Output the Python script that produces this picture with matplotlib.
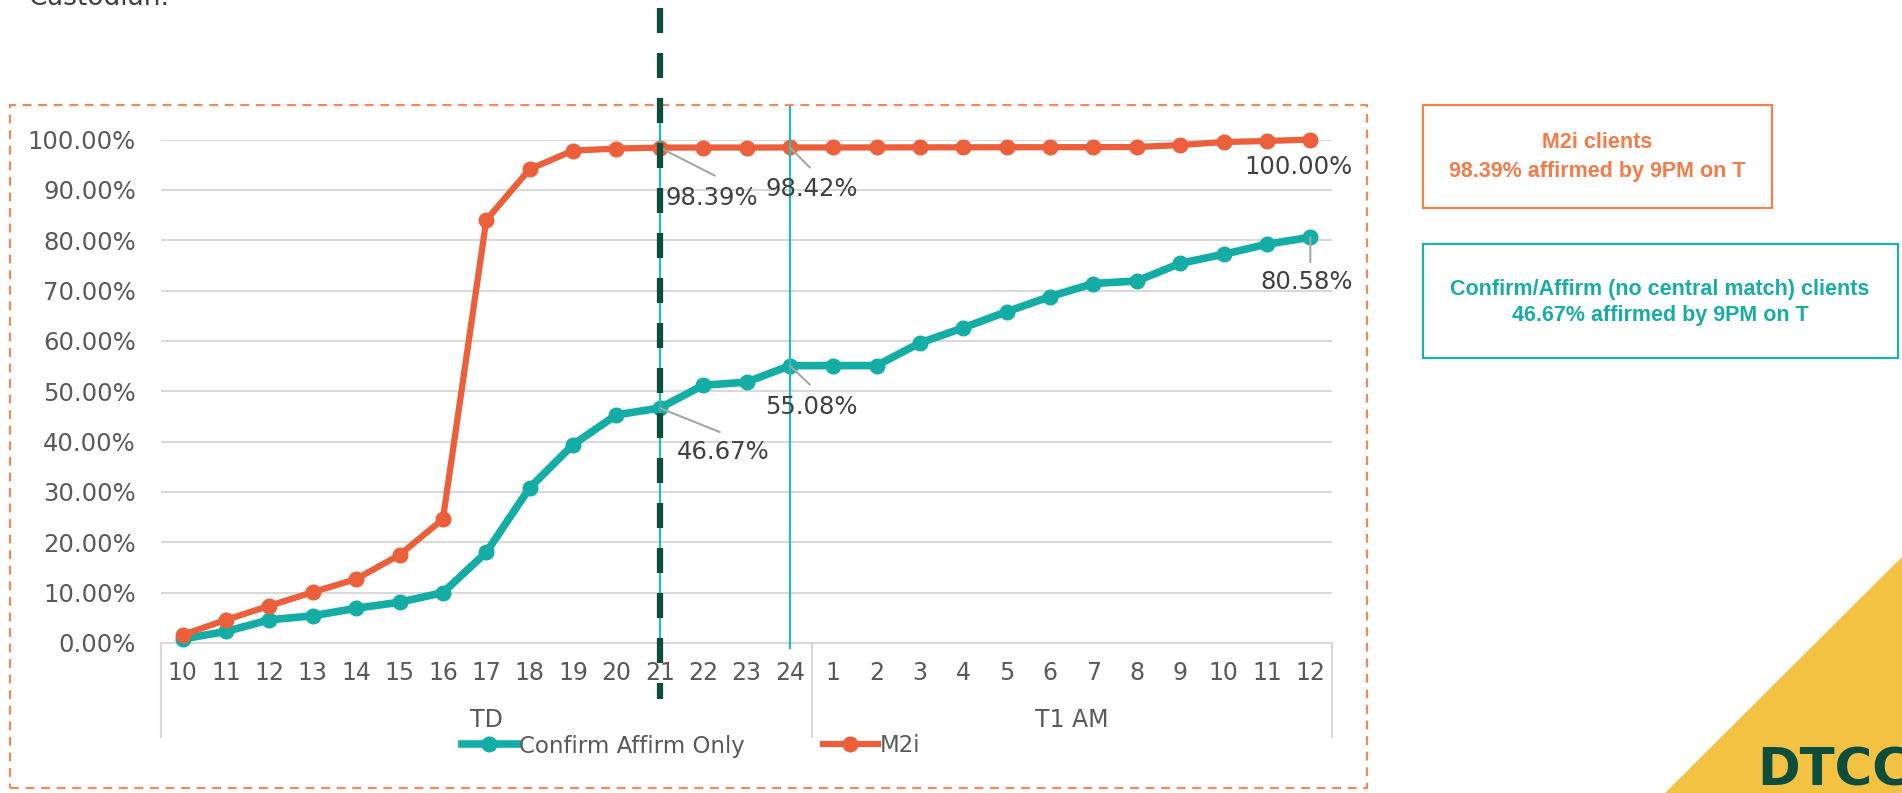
import matplotlib
matplotlib.use("Agg")
import matplotlib.pyplot as plt
import matplotlib.lines as mlines
import matplotlib.patches as mpatches
from matplotlib.ticker import PercentFormatter, FixedLocator

# hourly cumulative affirmation rate (%), trade date 10:00 through T+1 noon
hours = ["10", "11", "12", "13", "14", "15", "16", "17", "18", "19", "20",
         "21", "22", "23", "24", "1", "2", "3", "4", "5", "6", "7", "8",
         "9", "10", "11", "12"]
days = ["TD", "T1 AM"]
day_sizes = [15, 12]

confirm_only = [0.8, 2.3, 4.6, 5.4, 6.9, 8.1, 10.0, 18.0, 30.8, 39.4, 45.3,
                46.67, 51.2, 51.8, 55.08, 55.1, 55.1, 59.6, 62.6, 65.8, 68.8,
                71.4, 71.9, 75.4, 77.2, 79.2, 80.58]
m2i = [1.6, 4.6, 7.4, 10.1, 12.7, 17.5, 24.6, 84.0, 94.1, 97.8, 98.2,
       98.39, 98.4, 98.4, 98.42, 98.42, 98.43, 98.44, 98.45, 98.46, 98.47,
       98.48, 98.5, 98.9, 99.5, 99.7, 100.0]

cutoff_hours = [11, 14]   # positions of 21:00 and 24:00

W, H = 1902, 793
ORANGE = "#EC5F3B"
TEAL = "#14ADA5"
GRID = "#D9D9D9"
TXT = "#595959"
DARK = "#0C4E3B"

plt.rcParams["font.family"] = ["DejaVu Sans"]


def fx(px):
    return px / W


def fy(py):
    return 1 - py / H


fig = plt.figure(figsize=(W / 100, H / 100), dpi=100)
ax = fig.add_axes([fx(161), fy(643), (1332 - 161) / W, (643 - 139.5) / H])

x = list(range(len(hours)))
conf = [v / 100 for v in confirm_only]
m2 = [v / 100 for v in m2i]

ax.plot(x, conf, color=TEAL, lw=5.5, marker="o", ms=10.5, clip_on=False,
        zorder=3, label="Confirm Affirm Only")
ax.plot(x, m2, color=ORANGE, lw=4.5, marker="o", ms=10.5, clip_on=False,
        zorder=3.5, label="M2i")

ax.set_xlim(-0.5, len(hours) - 0.5)
ax.set_ylim(0, 1)
ax.yaxis.set_major_locator(FixedLocator([i / 10 for i in range(11)]))
ax.yaxis.set_major_formatter(PercentFormatter(xmax=1, decimals=2))
ax.set_xticks(x)
ax.set_xticklabels(hours)
ax.tick_params(axis="both", length=0, labelcolor=TXT)
ax.tick_params(axis="y", pad=18, labelsize=17.5)
ax.tick_params(axis="x", pad=13, labelsize=17)
ax.grid(axis="y", color=GRID, lw=1.5)
ax.set_axisbelow(True)
for side in ["left", "right", "top"]:
    ax.spines[side].set_visible(False)
ax.spines["bottom"].set_color(GRID)
ax.spines["bottom"].set_linewidth(1.5)

# thin cyan markers at 21:00 and 24:00
for c in cutoff_hours:
    ax.plot([c, c], [-0.01, 1.068], color="#22BDB4", lw=1.6,
            clip_on=False, zorder=4)

# day group labels and separators under the hour ticks
bounds = [-0.5]
for n in day_sizes:
    bounds.append(bounds[-1] + n)
for b in bounds:
    ax.plot([b, b], [0, -0.187], color=GRID, lw=1.5, clip_on=False)
for day, lo, hi in zip(days, bounds[:-1], bounds[1:]):
    ax.text((lo + hi) / 2, -0.153, day, ha="center", va="center",
            fontsize=17, color=TXT, transform=ax.get_xaxis_transform())

# data labels with grey leader lines: (series, index, text offset, leader end)
callouts = [
    (m2i, 11, (52, -50), (55, -28)),
    (m2i, 14, (22, -42), (20, -20)),
    (m2i, 26, (-12, -27), None),
    (confirm_only, 26, (-4, -45), (0, -25)),
    (confirm_only, 14, (22, -41), (20, -19)),
    (confirm_only, 11, (63, -44), (60, -24)),
]
for series, i, off, lead in callouts:
    v = series[i]
    if lead is not None:
        ax.annotate("", xy=(i, v / 100), xytext=lead,
                    textcoords="offset pixels",
                    arrowprops=dict(arrowstyle="-", color="#A6A6A6", lw=1.5,
                                    shrinkA=0, shrinkB=0), zorder=5)
    ax.annotate(f"{v:.2f}%", xy=(i, v / 100), xytext=off,
                textcoords="offset pixels", ha="center", va="center",
                fontsize=17.5, color="#404040", zorder=6)

leg = fig.legend(loc="center", bbox_to_anchor=(fx(691), fy(746)), ncol=2,
                 frameon=False, fontsize=16.5, handlelength=2.4,
                 handletextpad=0.1, columnspacing=3.4, markerscale=1.0)
for t in leg.get_texts():
    t.set_color(TXT)

# dashed 9PM cut-off line running through the whole slide
fig.add_artist(mlines.Line2D([fx(660), fx(660)], [fy(8), fy(699)],
                             color=DARK, lw=4.5, linestyle=(0, (4.0, 3.2)),
                             solid_capstyle="butt", dash_capstyle="butt",
                             zorder=10))

# dashed frame around the chart
fig.add_artist(mpatches.Rectangle((fx(10), fy(788)), fx(1357), (788 - 105) / H,
                                  fill=False, edgecolor="#F08A5D", lw=1.6,
                                  linestyle=(0, (4, 3))))

# summary boxes
BOX_FONT = dict(family="Liberation Sans", weight="bold", fontsize=15.5,
                ha="center", va="center")
fig.add_artist(mpatches.Rectangle((fx(1423), fy(208)), fx(349), (208 - 105) / H,
                                  fill=False, edgecolor="#F4804F", lw=1.6))
fig.text(fx(1597), fy(143), "M2i clients", color="#F47B4A", **BOX_FONT)
fig.text(fx(1597), fy(171), "98.39% affirmed by 9PM on T", color="#F47B4A",
         **BOX_FONT)

fig.add_artist(mpatches.Rectangle((fx(1423), fy(358)), fx(475), (358 - 244) / H,
                                  fill=False, edgecolor="#1CB2A8", lw=1.6))
fig.text(fx(1660), fy(289), "Confirm/Affirm (no central match) clients",
         color="#17ADA4", **BOX_FONT)
fig.text(fx(1660), fy(316), "46.67% affirmed by 9PM on T", color="#17ADA4",
         **BOX_FONT)

# corner logo
fig.add_artist(mpatches.Polygon([(fx(1665), fy(793)), (fx(1902), fy(557)),
                                 (fx(1902), fy(793))], closed=True,
                                facecolor="#F4C242", edgecolor="none"))
fig.text(fx(1757), fy(785), "DTCC", ha="left", va="baseline",
         weight="bold", fontsize=37, color=DARK)

# tail of the slide text above the chart
fig.text(fx(28), fy(5), "Custodian.", ha="left", va="baseline",
         fontsize=19, color="#404040")

fig.savefig("out.png", dpi=100, facecolor="white")
